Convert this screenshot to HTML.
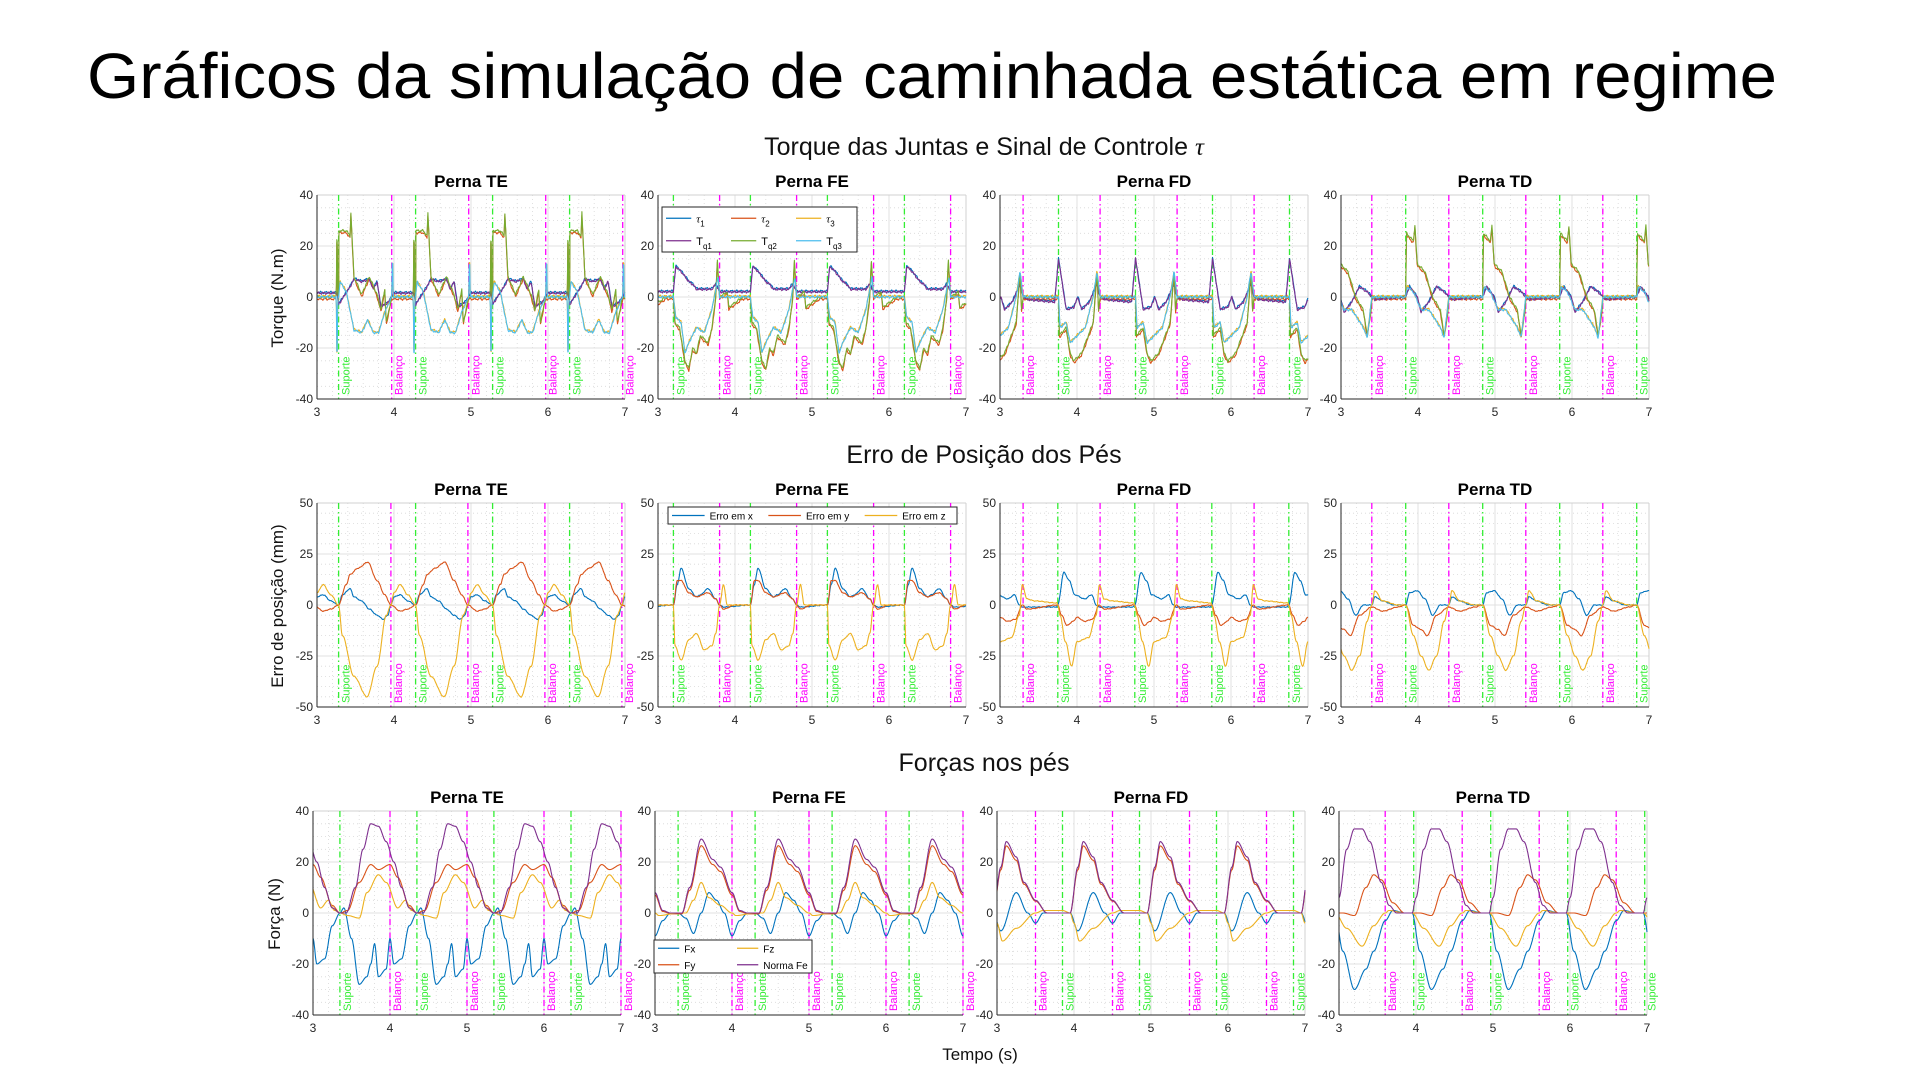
<!DOCTYPE html>
<html><head><meta charset="utf-8"><style>
html,body{margin:0;padding:0;background:#fff;}
svg{display:block;font-family:"Liberation Sans",Arial,sans-serif;}
</style></head><body>
<svg id="s" width="1920" height="1080" viewBox="0 0 1920 1080" xmlns="http://www.w3.org/2000/svg">
<text x="87" y="98" font-size="64" textLength="1690" lengthAdjust="spacingAndGlyphs" fill="#000">Gráficos da simulação de caminhada estática em regime</text>
<text x="984" y="155" font-size="25" text-anchor="middle" fill="#111">Torque das Juntas e Sinal de Controle <tspan font-family="Liberation Serif" font-style="italic">τ</tspan></text>
<text x="984" y="463" font-size="25" text-anchor="middle" fill="#111">Erro de Posição dos Pés</text>
<text x="984" y="771" font-size="25" text-anchor="middle" fill="#111">Forças nos pés</text>
<text x="980" y="1060" font-size="17" text-anchor="middle" fill="#111">Tempo (s)</text>
<text transform="translate(283,298) rotate(-90)" font-size="17" text-anchor="middle" fill="#111">Torque (N.m)</text>
<text transform="translate(283,606) rotate(-90)" font-size="17" text-anchor="middle" fill="#111">Erro de posição (mm)</text>
<text transform="translate(280,914) rotate(-90)" font-size="17" text-anchor="middle" fill="#111">Força (N)</text>
<g id="g"></g>
</svg>
<script>
var H='';
var C={b:'#0072BD',o:'#D95319',y:'#EDB120',p:'#7E2F8E',g:'#77AC30',c:'#4DBEEE'};
var SMOOTH=false;
function pw(k){var sm=SMOOTH;return function(u){for(var i=1;i<k.length;i++){if(u<=k[i][0]){var a=k[i-1],b=k[i];var f=(u-a[0])/((b[0]-a[0])||1);if(sm)f=f*f*(3-2*f);return a[1]+f*(b[1]-a[1]);}}return k[k.length-1][1];};}
function cyc(k,r,sc,off){var f=pw(k);sc=sc||1;off=off||0;return function(t){var u=((t-r)%1+1)%1;return f(u)*sc+off;};}
function panel(x0,y0,w,h,ymin,ymax,ystep,title,ser,gl,ml,noise){
 var X=function(t){return x0+(t-3)/4*w},Y=function(v){return y0+(ymax-v)/(ymax-ymin)*h};
 var s='';
 s+='<rect x="'+x0+'" y="'+y0+'" width="'+w+'" height="'+h+'" fill="#fff"/>';
 for(var t=3.2;t<7;t+=0.2){var xx=X(t).toFixed(1);s+='<line x1="'+xx+'" x2="'+xx+'" y1="'+y0+'" y2="'+(y0+h)+'" stroke="#d8d8d8" stroke-width="0.8" stroke-dasharray="1,3"/>';}
 for(var v=ymin+5;v<ymax;v+=5){var yy=Y(v).toFixed(1);s+='<line x1="'+x0+'" x2="'+(x0+w)+'" y1="'+yy+'" y2="'+yy+'" stroke="#d8d8d8" stroke-width="0.8" stroke-dasharray="1,3"/>';}
 for(var t=4;t<7;t++){var xx=X(t);s+='<line x1="'+xx+'" x2="'+xx+'" y1="'+y0+'" y2="'+(y0+h)+'" stroke="#e0e0e0" stroke-width="1"/>';}
 for(var v=ymin+ystep;v<ymax;v+=ystep){var yy=Y(v);s+='<line x1="'+x0+'" x2="'+(x0+w)+'" y1="'+yy+'" y2="'+yy+'" stroke="#e0e0e0" stroke-width="1"/>';}
 s+='<line x1="'+(x0+w)+'" x2="'+(x0+w)+'" y1="'+y0+'" y2="'+(y0+h)+'" stroke="#d0d0d0"/><line x1="'+x0+'" x2="'+(x0+w)+'" y1="'+y0+'" y2="'+y0+'" stroke="#d0d0d0"/>';
 function vl(t0,col,lab){for(var t=t0;t<=7.01;t+=1){if(t<3)continue;var xx=X(t).toFixed(1);s+='<line x1="'+xx+'" x2="'+xx+'" y1="'+y0+'" y2="'+(y0+h)+'" stroke="'+col+'" stroke-width="1.3" stroke-dasharray="6,3,1.5,3"/>';
  s+='<text transform="translate('+(+xx+11)+','+(y0+h-4)+') rotate(-90)" font-size="11" fill="'+col+'">'+lab+'</text>';}}
 vl(gl,'#33ee33','Suporte');vl(ml,'#ff00ff','Balanço');
 ser.forEach(function(se){var d='',N=700;for(var i=0;i<=N;i++){var t=3+4*i/N;var v=se.f(t)+(noise?noise*(0.6*Math.sin(t*97+se.ph)+0.4*Math.sin(t*231+se.ph*2)):0);v=Math.max(ymin,Math.min(ymax,v));d+=(i?'L':'M')+X(t).toFixed(1)+','+Y(v).toFixed(1);}
  s+='<path d="'+d+'" fill="none" stroke="'+se.c+'" stroke-width="1.1" stroke-linejoin="round"/>';});
 s+='<line x1="'+x0+'" x2="'+x0+'" y1="'+y0+'" y2="'+(y0+h)+'" stroke="#262626"/><line x1="'+x0+'" x2="'+(x0+w)+'" y1="'+(y0+h)+'" y2="'+(y0+h)+'" stroke="#262626"/>';
 for(var v=ymin;v<=ymax;v+=ystep){s+='<text x="'+(x0-4)+'" y="'+(Y(v)+4)+'" font-size="12" text-anchor="end" fill="#262626">'+v+'</text>';}
 for(var t=3;t<=7;t++){s+='<text x="'+X(t)+'" y="'+(y0+h+17)+'" font-size="12" text-anchor="middle" fill="#262626">'+t+'</text>';}
 s+='<text x="'+(x0+w/2)+'" y="'+(y0-8)+'" font-size="17" font-weight="bold" text-anchor="middle" fill="#000">'+title+'</text>';
 H+=s;}
function six(q1,q2,q3,r){return [{c:C.b,f:cyc(q1,r,1,0.3),ph:1},{c:C.o,f:cyc(q2,r,1,-0.8),ph:2},{c:C.y,f:cyc(q3,r,1,0.3),ph:3},{c:C.p,f:cyc(q1,r),ph:4},{c:C.g,f:cyc(q2,r),ph:5},{c:C.c,f:cyc(q3,r),ph:6}];}
function three(x,y,z,r){return [{c:C.b,f:cyc(x,r),ph:1},{c:C.o,f:cyc(y,r),ph:2},{c:C.y,f:cyc(z,r),ph:3}];}
function four(x,y,z,n,r){return [{c:C.b,f:cyc(x,r),ph:1},{c:C.o,f:cyc(y,r),ph:2},{c:C.y,f:cyc(z,r),ph:3},{c:C.p,f:cyc(n,r),ph:4}];}
var cols=[317,658,1000,1341],W=308,Hh=204,r1=195,r2=503,r3=811,cols3=[313,655,997,1339];
// Row 1
panel(cols[0],r1,W,Hh,-40,40,20,'Perna TE',six(
 [[0,-3],[0.15,4],[0.2,7],[0.3,6],[0.4,7],[0.45,3],[0.5,6],[0.55,-4],[0.65,-2],[0.69,0],[0.72,1.5],[0.98,1.5],[1,-3]],
 [[0,0],[0.005,26],[0.1,26],[0.15,24],[0.16,33],[0.2,8],[0.3,1],[0.4,8],[0.5,1],[0.55,-5],[0.6,3],[0.62,-10],[0.69,0],[0.97,0],[0.98,31],[0.99,-2],[1,0]],
 [[0,0],[0.02,6],[0.1,2],[0.2,-13],[0.3,-14],[0.38,-9],[0.45,-14],[0.52,-14],[0.6,-6],[0.69,0],[0.7,18],[0.71,0],[0.97,0],[0.98,-30],[0.99,0],[1,0]],3.28),3.28,3.97,0.5);
panel(cols[1],r1,W,Hh,-40,40,20,'Perna FE',six(
 [[0,2],[0.03,12],[0.1,10],[0.15,8],[0.2,6],[0.25,5],[0.3,3],[0.5,3],[0.55,5],[0.6,2],[1,2]],
 [[0,0],[0.02,-10],[0.08,-12],[0.15,-25],[0.2,-28],[0.25,-20],[0.3,-22],[0.35,-15],[0.45,-18],[0.5,-12],[0.55,0],[0.57,15],[0.6,0],[0.7,2],[0.72,-4],[0.9,0],[1,0]],
 [[0,0],[0.03,-8],[0.1,-10],[0.15,-22],[0.2,-18],[0.3,-12],[0.4,-14],[0.5,-5],[0.58,8],[0.6,0],[1,0]],3.2),3.2,3.8,0.5);
panel(cols[2],r1,W,Hh,-40,40,20,'Perna FD',six(
 [[0,15],[0.05,5],[0.1,-5],[0.2,-4],[0.25,0],[0.3,-5],[0.4,-2],[0.5,5],[0.54,0],[0.6,-1],[0.95,-2],[1,15]],
 [[0,0],[0.01,-15],[0.1,-12],[0.15,-22],[0.2,-25],[0.3,-22],[0.35,-18],[0.45,-10],[0.5,10],[0.52,-5],[0.54,0],[1,0]],
 [[0,0],[0.02,-12],[0.1,-10],[0.15,-18],[0.25,-15],[0.35,-12],[0.45,0],[0.5,10],[0.54,0],[1,0]],3.76),3.76,3.3,0.5);
panel(cols[3],r1,W,Hh,-40,40,20,'Perna TD',six(
 [[0,0],[0.05,4],[0.15,0],[0.2,-6],[0.3,-2],[0.4,4],[0.5,2],[0.56,0],[0.6,-1],[1,0]],
 [[0,0],[0.01,25],[0.1,22],[0.12,28],[0.15,13],[0.25,10],[0.35,0],[0.45,-5],[0.5,-15],[0.55,-5],[0.56,0],[1,0]],
 [[0,0],[0.02,4],[0.1,2],[0.2,-5],[0.3,-5],[0.45,-12],[0.5,-16],[0.56,0],[1,0]],3.84),3.84,3.4,0.5);
SMOOTH=true;
// Row 2
panel(cols[0],r2,W,Hh,-50,50,25,'Perna TE',three(
 [[0,0],[0.05,5],[0.15,8],[0.2,4],[0.3,2],[0.4,-2],[0.5,-5],[0.58,-7],[0.64,-5],[0.68,0],[0.72,4],[0.8,5],[0.9,2],[1,0]],
 [[0,0],[0.1,10],[0.15,15],[0.25,18],[0.38,21],[0.5,12],[0.6,5],[0.68,0],[0.8,-3],[0.9,-2],[1,0]],
 [[0,0],[0.05,-15],[0.2,-35],[0.37,-45],[0.5,-30],[0.62,-5],[0.68,0],[0.72,6],[0.8,10],[0.9,5],[1,0]],3.28),3.28,3.96,0.2);
panel(cols[1],r2,W,Hh,-50,50,25,'Perna FE',three(
 [[0,0],[0.05,10],[0.1,18],[0.2,8],[0.3,4],[0.35,5],[0.45,8],[0.55,3],[0.6,0],[0.65,-1],[1,0]],
 [[0,0],[0.05,12],[0.1,12],[0.2,6],[0.3,4],[0.45,6],[0.55,3],[0.6,0],[0.65,-2],[0.8,0],[1,0]],
 [[0,0],[0.02,-20],[0.1,-27],[0.2,-17],[0.3,-14],[0.4,-22],[0.5,-20],[0.55,-14],[0.6,0],[0.65,10],[0.7,0],[1,0]],3.2),3.2,3.8,0.2);
panel(cols[2],r2,W,Hh,-50,50,25,'Perna FD',three(
 [[0,0],[0.08,16],[0.15,12],[0.22,5],[0.35,3],[0.44,5],[0.5,0],[0.54,-1],[0.98,-1],[1,0]],
 [[0,0],[0.05,-5],[0.12,-10],[0.2,-8],[0.25,-6],[0.35,-8],[0.45,-7],[0.54,0],[0.6,-2],[1,0]],
 [[0,0],[0.03,-5],[0.1,-18],[0.18,-30],[0.25,-18],[0.4,-16],[0.5,-5],[0.54,10],[0.6,3],[0.7,2],[0.99,1],[1,0]],3.75),3.75,3.3,0.2);
panel(cols[3],r2,W,Hh,-50,50,25,'Perna TD',three(
 [[0,0],[0.05,6],[0.15,7],[0.25,3],[0.35,-5],[0.45,0],[0.56,0],[0.6,4],[0.7,2],[0.85,0],[1,0]],
 [[0,0],[0.1,-10],[0.2,-12],[0.28,-15],[0.4,-5],[0.56,-1],[0.7,-3],[0.9,-1],[1,0]],
 [[0,0],[0.1,-15],[0.2,-25],[0.3,-32],[0.4,-25],[0.5,-8],[0.56,0],[0.6,7],[0.7,2],[0.9,0],[1,0]],3.84),3.84,3.4,0.2);
// Row 3
panel(cols3[0],r3,W,Hh,-40,40,20,'Perna TE',four(
 [[0,0],[0.05,2],[0.15,-10],[0.25,-28],[0.35,-25],[0.4,-20],[0.45,-12],[0.5,-25],[0.6,-22],[0.65,-10],[0.7,-20],[0.8,-18],[0.9,-5],[1,0]],
 [[0,0],[0.1,1],[0.25,12],[0.4,19],[0.5,17],[0.65,19],[0.75,14],[0.9,3],[1,0]],
 [[0,0],[0.1,-1],[0.25,-2],[0.35,8],[0.5,15],[0.6,12],[0.75,2],[0.85,5],[0.93,1],[1,0]],
 [[0,0],[0.08,0],[0.2,10],[0.3,25],[0.4,35],[0.5,34],[0.6,28],[0.7,20],[0.8,10],[0.9,2],[1,0]],3.35),3.35,4.0,0);
var fen=[[0,0],[0.05,0],[0.15,10],[0.3,29],[0.45,21],[0.55,18],[0.7,8],[0.8,1],[0.9,0],[1,0]];
var fes=four([[0,0],[0.1,-2],[0.2,-8],[0.3,0],[0.4,8],[0.5,5],[0.6,0],[0.7,-9],[0.8,-3],[0.9,0],[1,0]],fen,
 [[0,0],[0.1,0],[0.2,5],[0.3,12],[0.4,6],[0.55,3],[0.7,0],[0.75,-1],[1,0]],fen,3.3);fes[1].f=cyc(fen,3.3,0.92,-0.3);
panel(cols3[1],r3,W,Hh,-40,40,20,'Perna FE',fes,3.3,4.0,0);
var fdn=[[0,0],[0.1,18],[0.17,28],[0.3,22],[0.4,12],[0.55,5],[0.7,0],[1,0]];
var fds=four([[0,0],[0.1,-7],[0.3,8],[0.45,0],[0.55,-4],[0.65,0],[1,0]],fdn,[[0,0],[0.05,-4],[0.12,-11],[0.3,-6],[0.55,0],[0.65,1],[0.9,1],[1,0]],fdn,2.95);fds[1].f=cyc(fdn,2.95,0.94,0);
panel(cols3[2],r3,W,Hh,-40,40,20,'Perna FD',fds,3.85,3.5,0);
panel(cols3[3],r3,W,Hh,-40,40,20,'Perna TD',four(
 [[0,0],[0.1,-15],[0.25,-30],[0.4,-22],[0.5,-15],[0.65,-3],[0.75,1],[0.9,0],[1,0]],
 [[0,0],[0.1,0],[0.25,-1],[0.4,10],[0.5,15],[0.6,13],[0.75,4],[0.9,0],[1,0]],
 [[0,0],[0.15,-6],[0.35,-13],[0.5,-5],[0.65,0],[0.7,1],[0.9,0],[1,0]],
 [[0,0],[0.05,6],[0.15,25],[0.25,33],[0.35,33],[0.45,28],[0.6,12],[0.7,3],[0.8,0],[1,0]],2.95),3.97,3.6,0);
// Legends
function leg(x,y,w,h,items,cols,fs,lf){lf=lf||0.45;var s='<rect x="'+x+'" y="'+y+'" width="'+w+'" height="'+h+'" fill="#fff" stroke="#262626" stroke-width="1"/>';
 var rows=Math.ceil(items.length/cols),cw=w/cols,rh=h/rows;
 items.forEach(function(it,i){var cx=x+(i%cols)*cw,cy=y+Math.floor(i/cols)*rh+rh/2;
  s+='<line x1="'+(cx+4)+'" x2="'+(cx+cw*lf)+'" y1="'+cy+'" y2="'+cy+'" stroke="'+it[0]+'" stroke-width="1.2"/>';
  s+='<text x="'+(cx+cw*lf+5)+'" y="'+(cy+4)+'" font-size="'+fs+'" fill="#000">'+it[1]+'</text>';});H+=s;}
leg(662,207,195,45,[[C.b,'<tspan font-family="Liberation Serif" font-style="italic">τ</tspan><tspan font-size="8" dy="4">1</tspan>'],[C.o,'<tspan font-family="Liberation Serif" font-style="italic">τ</tspan><tspan font-size="8" dy="4">2</tspan>'],[C.y,'<tspan font-family="Liberation Serif" font-style="italic">τ</tspan><tspan font-size="8" dy="4">3</tspan>'],[C.p,'T<tspan font-size="8" dy="4">q1</tspan>'],[C.g,'T<tspan font-size="8" dy="4">q2</tspan>'],[C.c,'T<tspan font-size="8" dy="4">q3</tspan>']],3,11);
leg(668,507,289,17,[[C.b,'Erro em x'],[C.o,'Erro em y'],[C.y,'Erro em z']],3,10,0.38);
leg(654,940,158,33,[[C.b,'Fx'],[C.y,'Fz'],[C.o,'Fy'],[C.p,'Norma Fe']],2,10,0.32);
document.getElementById('g').innerHTML=H;
</script>
</body></html>
